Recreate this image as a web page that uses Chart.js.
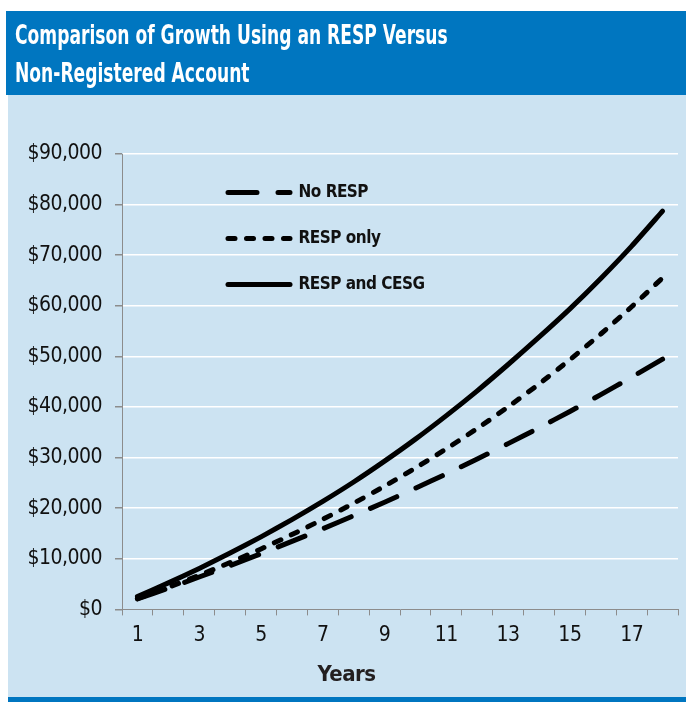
<!DOCTYPE html>
<html lang="en">
<head>
    <meta charset="UTF-8">
    <title>Comparison of Growth Using an RESP Versus Non-Registered Account</title>
    <script src="https://cdn.jsdelivr.net/npm/chart.js@4.4.1/dist/chart.umd.min.js"></script>
    <style>
        html, body { margin: 0; padding: 0; background: #fff; }
        canvas { display: block; }
    </style>
</head>
<body>
 <canvas id="myChart" width="686" height="702"></canvas>
 <script>
    // values (year-end balance, $)
    const years = ['1','2','3','4','5','6','7','8','9','10','11','12','13','14','15','16','17','18'];
    const noResp = [2070, 4200, 6400, 8670, 11020, 13440, 15940, 18530, 21190, 23950, 26790, 29730, 32760, 35890, 39120, 42450, 45900, 49450];
    const respOnly = [2120, 4370, 6750, 9270, 11950, 14790, 17800, 20980, 24360, 27940, 31740, 35760, 40030, 44550, 49350, 54430, 59810, 65520];
    const respCesg = [2540, 5240, 8100, 11130, 14340, 17750, 21350, 25180, 29300, 33650, 38300, 43200, 48400, 53800, 59400, 65400, 71800, 78700];
    const yTicksMax = 90000;
    const yTicksStep = 10000;
    const titleLines = ['Comparison of Growth Using an RESP Versus', 'Non-Registered Account'];

    const FONT = "'Liberation Sans Narrow', 'DejaVu Sans Condensed', 'Arial Narrow', sans-serif";
    const BLUE = '#0076c0';
    const PANEL = '#cce3f2';
    const AXIS = '#8c8c8c';

    // panel, banner and the (narrow) heading behind the chart
    const backdrop = {
      id: 'backdrop',
      beforeDraw(chart) {
        const c = chart.ctx;
        c.save();
        c.fillStyle = '#fff';
        c.fillRect(0, 0, chart.width, chart.height);
        c.fillStyle = BLUE;
        c.fillRect(6, 11, chart.width - 6, 84);
        c.fillStyle = PANEL;
        c.fillRect(8, 95, chart.width - 8, 602);
        c.fillStyle = BLUE;
        c.fillRect(8, 697, chart.width - 8, 5);

        // heading font is much narrower than anything installed, squeeze it
        c.fillStyle = '#fff';
        c.font = 'bold 27px ' + FONT;
        c.textBaseline = 'alphabetic';
        c.textAlign = 'left';
        c.translate(15, 0);
        c.scale(0.705, 1);
        titleLines.forEach((t, i) => c.fillText(t, 0, 44 + i * 38));
        c.restore();
        // condensed look for the rest of the text
        c.letterSpacing = '-0.5px';
      }
    };

    // legend sits inside the plot, pushed right
    const legendShift = {
      id: 'legendShift',
      afterLayout(chart) {
        const lg = chart.legend;
        if (!lg) return;
        lg.left = 228 - lg.options.labels.padding;
        lg.top = chart.chartArea.top + 1;
        lg.bottom = chart.chartArea.bottom;
      }
    };

    const line = (label, data, dash) => ({
      label: label,
      data: data,
      borderColor: '#000',
      backgroundColor: '#000',
      borderWidth: 5,
      borderDash: dash,
      borderCapStyle: 'round',
      borderJoinStyle: 'round',
      pointRadius: 0,
      tension: 0.2,
      fill: false
    });

    const ctx = document.getElementById('myChart').getContext('2d');
    const myChart = new Chart(ctx, {
      type: 'line',
      data: {
        labels: years,
        datasets: [
          line('No RESP', noResp, [29, 21]),
          line('RESP only', respOnly, [7, 11.5]),
          line('RESP and CESG', respCesg, [])
        ]
      },
      plugins: [backdrop, legendShift],
      options: {
        responsive: false,
        animation: false,
        layout: { padding: { left: 15, right: 8, top: 154, bottom: 0 } },
        plugins: {
          title: { display: false },
          subtitle: {
            display: true,
            position: 'bottom',
            text: 'Years',
            color: '#231f20',
            font: { family: FONT, size: 22, weight: 'bold', lineHeight: 1.2 },
            padding: { top: 5, bottom: 14 }
          },
          legend: {
            position: 'chartArea',
            align: 'start',
            labels: {
              usePointStyle: true,
              pointStyle: 'line',
              pointStyleWidth: 62,
              padding: 29,
              color: '#111',
              font: { family: FONT, size: 17, weight: 'bold' },
              generateLabels(chart) {
                const items = Chart.defaults.plugins.legend.labels.generateLabels(chart);
                items.forEach(it => {
                  const ds = chart.data.datasets[it.datasetIndex];
                  it.lineDash = ds.borderDash;
                  it.lineCap = ds.borderCapStyle;
                  it.lineWidth = ds.borderWidth;
                  it.strokeStyle = ds.borderColor;
                });
                return items;
              }
            }
          },
          tooltip: { enabled: false }
        },
        scales: {
          x: {
            offset: true,
            border: { color: AXIS, width: 1 },
            grid: { offset: true, drawOnChartArea: false, drawTicks: true, tickLength: 6, tickColor: AXIS },
            ticks: {
              autoSkip: false,
              maxRotation: 0,
              padding: 8,
              color: '#111',
              font: { family: FONT, size: 21 },
              callback: function(v, i) { return i % 2 === 0 ? this.getLabelForValue(v) : ''; }
            }
          },
          y: {
            min: 0,
            max: yTicksMax,
            afterFit(scale) { scale.width = 107; },
            border: { color: AXIS, width: 1 },
            grid: {
              color: c => c.tick && c.tick.value === 0 ? 'rgba(0,0,0,0)' : '#ffffff',
              lineWidth: 1.5,
              tickColor: AXIS,
              tickLength: 7
            },
            ticks: {
              stepSize: yTicksStep,
              padding: 13,
              color: '#111',
              font: { family: FONT, size: 21 },
              callback: v => '$' + v.toLocaleString('en-US')
            }
          }
        }
      }
    });
 </script>
</body>
</html>
